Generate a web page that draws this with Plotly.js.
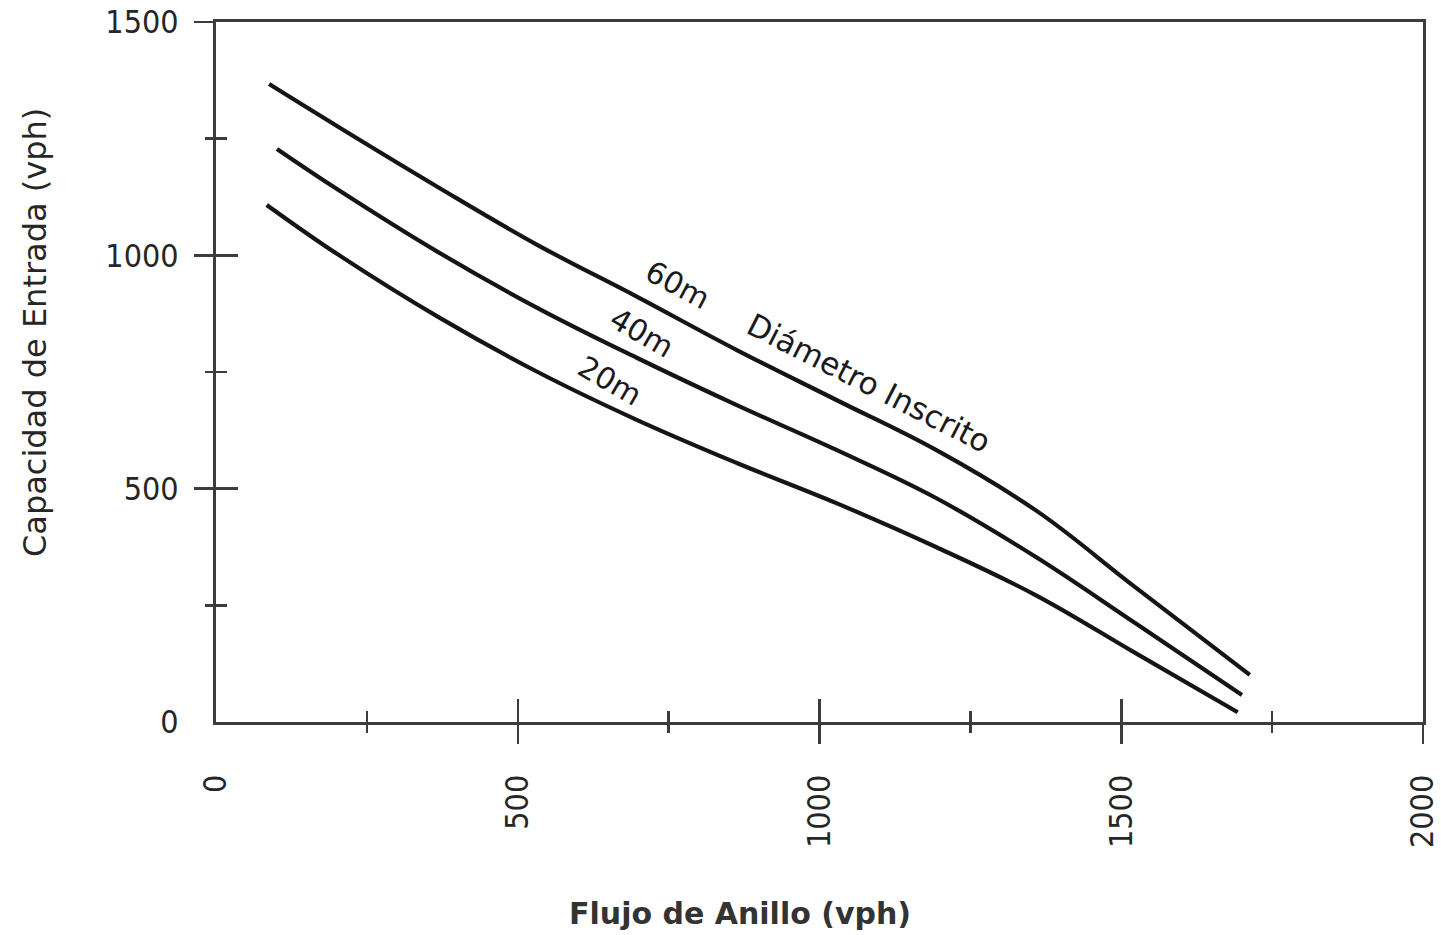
<!DOCTYPE html>
<html>
<head>
<meta charset="utf-8">
<script src="https://cdn.plot.ly/plotly-3.0.1.min.js"></script>
<style>
  html, body { margin: 0; padding: 0; background: #ffffff; }
  #chart { width: 1441px; height: 935px; }
</style>
</head>
<body>
<div id="chart"></div>
<script>
// ---- data ----
const flujo60 = [88, 203, 368, 533, 698, 863, 1028, 1193, 1358, 1523, 1713];
const cap60   = [1367, 1275, 1146, 1022, 911, 797, 690, 583, 454, 289, 101];

const flujo40 = [101, 203, 368, 533, 698, 863, 1028, 1193, 1358, 1523, 1700];
const cap40   = [1228, 1140, 1007, 887, 780, 679, 583, 480, 354, 212, 58];

const flujo20 = [84, 203, 368, 533, 698, 863, 1028, 1193, 1358, 1523, 1693];
const cap20   = [1108, 1001, 868, 750, 647, 555, 469, 375, 272, 148, 21];

const xTickVals = [0, 500, 1000, 1500, 2000];
const xTickText = ['0', '500', '1000', '1500', '2000'];
const yTickVals = [0, 500, 1000, 1500];
const yTickText = ['0', '500', '1000', '1500'];

const xTitle = 'Flujo de Anillo (vph)';
const yTitle = 'Capacidad de Entrada (vph)';
const curveLabels = ['60m', '40m', '20m'];
const groupLabel = 'Diámetro Inscrito';

// ---- styling ----
const FONTC = 'DejaVu Sans Condensed, Liberation Sans Narrow, sans-serif';
const FONT = 'DejaVu Sans, Liberation Sans, sans-serif';
const TXT = '#262626';
const AX = '#3c3c3c';
const CURVE = '#151515';

function curve(x, y, name, xa, ya) {
  return {
    x: x, y: y, name: name, type: 'scatter', mode: 'lines',
    xaxis: xa, yaxis: ya,
    line: { color: CURVE, width: 4.2, shape: 'spline', smoothing: 1.1 },
    hoverinfo: 'x+y+name', showlegend: false
  };
}

// each curve sits on its own (identical-range) axis pair so that the
// overlaid axes draw the crossing ticks of the reference
const data = [
  curve(flujo20, cap20, curveLabels[2], 'x', 'y'),
  curve(flujo40, cap40, curveLabels[1], 'x3', 'y3'),
  curve(flujo60, cap60, curveLabels[0], 'x2', 'y2')
];

const xr = [0, 2000], yr = [0, 1500];

const layout = {
  width: 1441, height: 935,
  paper_bgcolor: '#ffffff', plot_bgcolor: '#ffffff',
  margin: { l: 216, r: 18, t: 22, b: 213 },
  showlegend: false,
  font: { family: FONTC, color: TXT, size: 30 },
  xaxis: {
    range: xr, showgrid: false, zeroline: false,
    showline: true, linecolor: AX, linewidth: 3, mirror: true,
    tickmode: 'array', tickvals: xTickVals, ticktext: xTickText,
    ticks: '', tickangle: -90, ticklabelstandoff: 37,
    ticklabeloverflow: 'allow',
    tickfont: { family: FONTC, size: 32, color: TXT }
  },
  xaxis2: {
    overlaying: 'x', anchor: 'y', side: 'bottom', range: xr,
    showgrid: false, zeroline: false, showline: false, showticklabels: false,
    tickmode: 'array', tickvals: [500, 1000, 1500, 2000],
    ticks: 'outside', ticklen: 21, tickwidth: 2.5, tickcolor: AX,
    minor: { tickmode: 'array', tickvals: [250, 750, 1250, 1750], ticks: 'outside', ticklen: 10, tickwidth: 2.5, tickcolor: AX, showgrid: false }
  },
  xaxis3: {
    overlaying: 'x', anchor: 'y', side: 'bottom', range: xr,
    showgrid: false, zeroline: false, showline: false, showticklabels: false,
    tickmode: 'array', tickvals: [500, 1000, 1500],
    ticks: 'inside', ticklen: 23, tickwidth: 2.5, tickcolor: AX,
    minor: { tickmode: 'array', tickvals: [250, 750, 1250, 1750], ticks: 'inside', ticklen: 11, tickwidth: 2.5, tickcolor: AX, showgrid: false }
  },
  yaxis: {
    range: yr, showgrid: false, zeroline: false,
    showline: true, linecolor: AX, linewidth: 3, mirror: true,
    tickmode: 'array', tickvals: yTickVals, ticktext: yTickText,
    ticks: '', ticklabelstandoff: 28,
    ticklabeloverflow: 'allow',
    tickfont: { family: FONTC, size: 32, color: TXT }
  },
  yaxis2: {
    overlaying: 'y', anchor: 'x', side: 'left', range: yr,
    showgrid: false, zeroline: false, showline: false, showticklabels: false,
    tickmode: 'array', tickvals: [500, 1000, 1500],
    ticks: 'outside', ticklen: 21, tickwidth: 2.5, tickcolor: AX,
    minor: { tickmode: 'array', tickvals: [250, 750, 1250], ticks: 'outside', ticklen: 10, tickwidth: 2.5, tickcolor: AX, showgrid: false }
  },
  yaxis3: {
    overlaying: 'y', anchor: 'x', side: 'left', range: yr,
    showgrid: false, zeroline: false, showline: false, showticklabels: false,
    tickmode: 'array', tickvals: [500, 1000],
    ticks: 'inside', ticklen: 22, tickwidth: 2.5, tickcolor: AX,
    minor: { tickmode: 'array', tickvals: [250, 750, 1250], ticks: 'inside', ticklen: 11, tickwidth: 2.5, tickcolor: AX, showgrid: false }
  },
  annotations: [
    { text: '<b>' + xTitle + '</b>', xref: 'paper', yref: 'paper', x: 0.434, y: -0.273,
      xanchor: 'center', yanchor: 'middle', showarrow: false,
      font: { family: FONT, size: 30, color: '#333333' } },
    { text: yTitle, xref: 'paper', yref: 'paper', x: -0.15, y: 0.557,
      xanchor: 'center', yanchor: 'middle', showarrow: false, textangle: -90,
      font: { family: FONT, size: 32, color: TXT } },
    { text: curveLabels[0], xref: 'x', yref: 'y', x: 764, y: 937,
      showarrow: false, textangle: 28, font: { family: FONT, size: 30, color: '#1a1a1a' } },
    { text: groupLabel, xref: 'x', yref: 'y', x: 1082, y: 727,
      showarrow: false, textangle: 27, font: { family: FONT, size: 31, color: '#1a1a1a' } },
    { text: curveLabels[1], xref: 'x', yref: 'y', x: 705, y: 834,
      showarrow: false, textangle: 30, font: { family: FONT, size: 30, color: '#1a1a1a' } },
    { text: curveLabels[2], xref: 'x', yref: 'y', x: 652, y: 731,
      showarrow: false, textangle: 30, font: { family: FONT, size: 30, color: '#1a1a1a' } }
  ]
};

Plotly.newPlot('chart', data, layout, { displayModeBar: false, staticPlot: true });
</script>
</body>
</html>
